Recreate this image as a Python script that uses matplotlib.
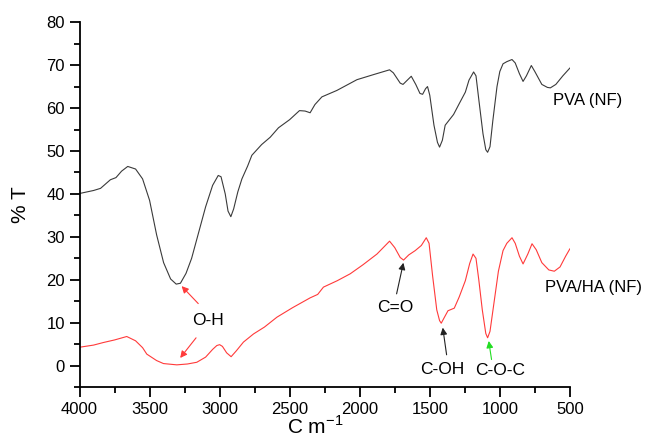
import matplotlib.pyplot as plt
from matplotlib.ticker import MultipleLocator

plt.rcParams['font.family'] = ['Liberation Sans', 'DejaVu Sans']

# PVA (NF) spectrum
pva_x = [4000, 3900, 3850, 3780, 3740, 3700, 3656, 3600, 3550, 3500, 3450, 3400,
         3350, 3310, 3280, 3240, 3200, 3150, 3100, 3050, 3010, 2990, 2960, 2940,
         2920, 2900, 2870, 2841, 2800, 2770, 2700, 2639, 2580, 2500, 2430, 2390,
         2354, 2320, 2270, 2163, 2020, 1900, 1787, 1760, 1711, 1691, 1660, 1632,
         1600, 1570, 1551, 1530, 1516, 1500, 1470, 1445, 1430, 1410, 1390, 1354,
         1330, 1290, 1246, 1220, 1187, 1170, 1150, 1120, 1100, 1087, 1070, 1050,
         1020, 1000, 977, 950, 913, 890, 860, 834, 810, 775, 750, 700, 660, 639,
         600, 550, 500]
pva_y = [40.1, 40.8, 41.3, 43.3, 43.8, 45.3, 46.4, 45.8, 43.5, 38.5, 30.5, 24.0,
         20.2, 19.0, 19.2, 21.5, 25.0, 31.0, 37.0, 42.0, 44.3, 44.0, 40.0, 36.0,
         34.7, 36.5, 40.5, 43.5, 46.5, 49.0, 51.5, 53.2, 55.4, 57.3, 59.4, 59.3,
         58.9, 60.8, 62.6, 64.1, 66.6, 67.8, 68.9, 68.2, 65.8, 65.5, 66.5, 67.4,
         65.5, 63.4, 63.2, 64.5, 65.0, 63.0, 56.0, 52.0, 50.9, 52.5, 56.0, 57.5,
         58.5, 61.0, 63.7, 66.5, 68.4, 67.5, 62.0, 54.0, 50.3, 49.7, 51.0, 57.0,
         65.0, 68.5, 70.3, 70.8, 71.3, 70.5, 68.0, 66.2, 67.5, 69.9, 68.5, 65.5,
         64.8, 64.7, 65.5, 67.5, 69.3]

# PVA/HA (NF) spectrum
ha_x = [4000, 3900, 3830, 3750, 3663, 3600, 3550, 3520, 3450, 3401, 3306, 3230,
        3163, 3100, 3050, 3020, 3000, 2980, 2950, 2918, 2880, 2830, 2758, 2680,
        2591, 2480, 2354, 2300, 2259, 2160, 2068, 1977, 1877, 1787, 1750, 1711,
        1687, 1650, 1604, 1560, 1525, 1505, 1480, 1450, 1430, 1418, 1400, 1370,
        1325, 1290, 1246, 1215, 1191, 1170, 1150, 1125, 1100, 1087, 1070, 1040,
        1010, 977, 950, 913, 890, 860, 834, 800, 770, 740, 700, 650, 611, 570,
        530, 500]
ha_y = [4.3, 4.8, 5.4, 6.0, 6.8, 5.8, 4.2, 2.7, 1.2, 0.5, 0.2, 0.4,
        0.8, 2.0, 3.8, 4.7, 4.9, 4.5, 3.0, 2.1, 3.5, 5.5, 7.4, 9.0,
        11.3, 13.5, 15.8, 16.6, 18.3, 19.8, 21.4, 23.5, 26.0, 29.0, 27.5, 25.2,
        24.6, 25.8, 26.8, 28.0, 29.8, 28.5, 21.0, 13.0, 10.5, 9.9, 11.0, 12.8,
        13.4, 16.0, 19.8, 23.8, 26.0, 25.0, 20.0, 13.0, 7.5, 6.5, 8.0, 15.0,
        22.0, 26.8, 28.5, 29.8, 28.5, 25.5, 23.7, 26.0, 28.4, 27.0, 24.0, 22.3,
        22.0, 23.0, 25.5, 27.2]

fig = plt.figure(figsize=(6.52, 4.43), dpi=100)
ax = fig.add_axes([0.122, 0.126, 0.752, 0.824])

ax.plot(pva_x, pva_y, color='#3a3a3a', linewidth=0.8)
ax.plot(ha_x, ha_y, color='#ff3a3a', linewidth=0.8)

ax.set_xlim(4000, 500)
ax.set_ylim(-5, 80)
ax.xaxis.set_major_locator(MultipleLocator(500))
ax.xaxis.set_minor_locator(MultipleLocator(250))
ax.yaxis.set_major_locator(MultipleLocator(10))
ax.yaxis.set_minor_locator(MultipleLocator(5))
ax.tick_params(which='major', direction='out', length=7, width=1.3, labelsize=12)
ax.tick_params(which='minor', direction='out', length=4, width=1.3)

for side in ['top', 'right']:
        ax.spines[side].set_visible(False)
for side in ['left', 'bottom']:
        ax.spines[side].set_linewidth(1.3)

# x label sits low, close to the bottom edge
fig.text(0.483, 0.012, 'C m$^{\\mathregular{-1}}$', fontsize=15, ha='center', va='bottom')
ax.set_ylabel('% T', fontsize=15, labelpad=12)

# labels and arrows
ax.text(618, 61.8, 'PVA (NF)', fontsize=12, va='center', ha='left')
ax.text(675, 18.1, 'PVA/HA (NF)', fontsize=12, va='center', ha='left', clip_on=False)

ax.text(3085, 10.5, 'O-H', fontsize=12.5, ha='center', va='center')
arrow_red = dict(arrowstyle='-|>', color='#ff3a3a', lw=0.8, mutation_scale=10)
ax.annotate('', xy=(3285, 19.0), xytext=(3139, 14.0), arrowprops=arrow_red)
ax.annotate('', xy=(3294, 1.3), xytext=(3156, 7.0), arrowprops=arrow_red)

arrow_blk = dict(arrowstyle='-|>', color='#222222', lw=0.8, mutation_scale=10)
ax.text(1743, 13.5, 'C=O', fontsize=12.5, ha='center', va='center')
ax.annotate('', xy=(1684, 24.6), xytext=(1741, 16.1), arrowprops=arrow_blk)

ax.text(1413, -0.8, 'C-OH', fontsize=12.5, ha='center', va='center')
ax.annotate('', xy=(1410, 9.5), xytext=(1377, 1.9), arrowprops=arrow_blk)

ax.text(997, -1.2, 'C-O-C', fontsize=12.5, ha='center', va='center')
arrow_grn = dict(arrowstyle='-|>', color='#22dd22', lw=0.8, mutation_scale=10)
ax.annotate('', xy=(1082, 6.4), xytext=(1056, 0.8), arrowprops=arrow_grn)

fig.savefig('out.png', dpi=100)
